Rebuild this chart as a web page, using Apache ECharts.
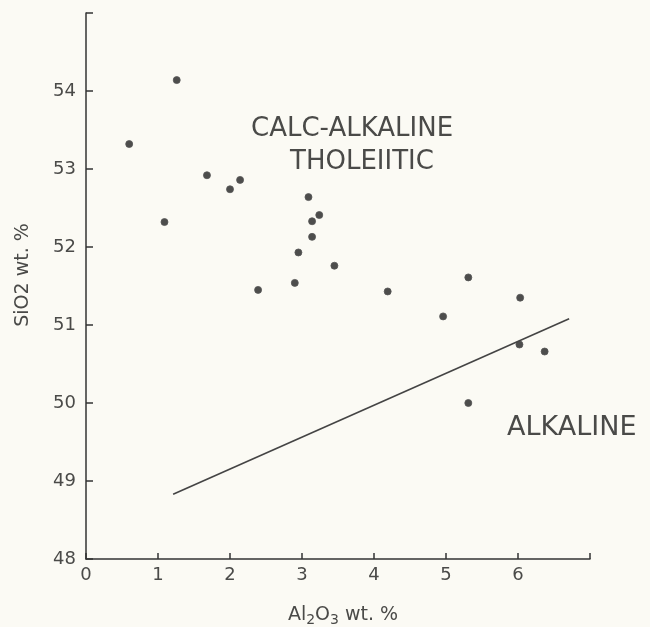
<!DOCTYPE html>
<html>
<head>
<meta charset="utf-8">
<script src="https://cdn.jsdelivr.net/npm/echarts@6/dist/echarts.min.js"></script>
<style>
html,body{margin:0;padding:0;background:#fbfaf4;}
#c{width:650px;height:627px;}
</style>
</head>
<body>
<div id="c"></div>
<script>
const al2o3 = [1.26,0.60,1.68,2.14,2.00,3.09,3.24,3.14,3.14,1.09,2.95,3.45,2.90,2.39,4.19,5.31,6.03,4.96,6.02,6.37,5.31];
const sio2  = [54.14,53.32,52.92,52.86,52.74,52.64,52.41,52.33,52.13,52.32,51.93,51.76,51.54,51.45,51.43,51.61,51.35,51.11,50.75,50.66,50.00];
const boundaryX = [1.21, 6.71];
const boundaryY = [48.83, 51.08];
const xTicks = ['0','1','2','3','4','5','6',''];
const yTicks = ['48','49','50','51','52','53','54',''];
const regionLabels = ['CALC-ALKALINE','THOLEIITIC','ALKALINE'];

const chart = echarts.init(document.getElementById('c'));
const textColor = '#4a4a48';
const font = 'DejaVu Sans';
chart.setOption({
  backgroundColor: '#fbfaf4',
  animation: false,
  grid: {left: 86, right: 60, top: 13, bottom: 68, outerBoundsMode: 'none', containLabel: false},
  xAxis: {
    type: 'value', min: 0, max: 7, interval: 1,
    axisLine: {lineStyle: {color: '#333', width: 1.5}},
    axisTick: {inside: true, length: 6, lineStyle: {color: '#333', width: 1.5}},
    splitLine: {show: false},
    axisLabel: {color: textColor, fontSize: 18, fontFamily: font, margin: 7,
      formatter: v => xTicks[Math.round(v)]},
    name: 'Al{s|2}O{s|3} wt. %',
    nameLocation: 'middle', nameGap: 45,
    nameTextStyle: {color: textColor, fontSize: 19, fontFamily: font, padding: [0,0,0,10],
      rich: {s: {fontSize: 14, fontFamily: font, color: textColor, verticalAlign: 'bottom', padding: [9,0,0,0]}}}
  },
  yAxis: {
    type: 'value', min: 48, max: 55, interval: 1,
    axisLine: {lineStyle: {color: '#333', width: 1.5}},
    axisTick: {inside: true, length: 7, lineStyle: {color: '#333', width: 1.5}},
    splitLine: {show: false},
    axisLabel: {color: textColor, fontSize: 18, fontFamily: font, margin: 10,
      formatter: v => yTicks[Math.round(v - 48)]},
    name: 'SiO{s|2} wt. %',
    nameLocation: 'middle', nameGap: 53,
    nameTextStyle: {color: textColor, fontSize: 19, fontFamily: font, padding: [0,0,0,22],
      rich: {s: {fontSize: 19, fontFamily: font, color: textColor}}}
  },
  series: [
    {
      type: 'scatter',
      symbolSize: 7,
      itemStyle: {color: '#222', borderColor: '#555', borderWidth: 1},
      data: al2o3.map((x, i) => [x, sio2[i]])
    },
    {
      type: 'line',
      symbol: 'none',
      lineStyle: {color: '#444', width: 1.6},
      data: boundaryX.map((x, i) => [x, boundaryY[i]])
    }
  ],
  graphic: [
    {type: 'text', left: 251, top: 116, style: {text: regionLabels[0], fill: textColor, font: '26px "DejaVu Sans"'}},
    {type: 'text', left: 290, top: 149, style: {text: regionLabels[1], fill: textColor, font: '26px "DejaVu Sans"'}},
    {type: 'text', left: 507, top: 414, style: {text: regionLabels[2], fill: textColor, font: '27px "DejaVu Sans"'}}
  ]
});
</script>
</body>
</html>
